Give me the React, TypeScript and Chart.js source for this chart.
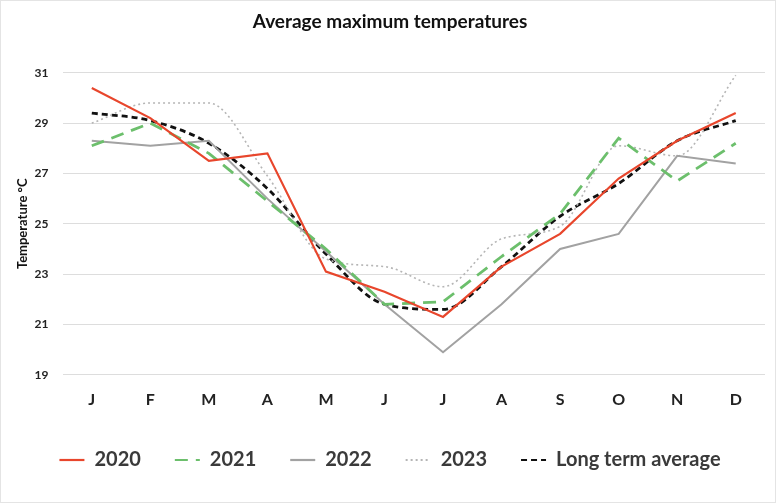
import React, { useEffect, useRef } from "react";
import { Chart, registerables } from "chart.js";

Chart.register(...registerables);

const months = ["J", "F", "M", "A", "M", "J", "J", "A", "S", "O", "N", "D"];
const y2020 = [30.4, 29.2, 27.5, 27.8, 23.1, 22.3, 21.3, 23.3, 24.6, 26.8, 28.3, 29.4];
const y2021 = [28.1, 29.0, 27.8, 25.9, 24.0, 21.8, 21.9, 23.7, 25.4, 28.4, 26.7, 28.2];
const y2022 = [28.3, 28.1, 28.3, 26.0, 23.9, 21.8, 19.9, 21.8, 24.0, 24.6, 27.7, 27.4];
const y2023 = [29.0, 29.8, 29.8, 26.9, 23.6, 23.3, 22.5, 24.4, 24.9, 28.1, 27.7, 30.9];
const longTerm = [29.4, 29.1, 28.2, 26.4, 23.8, 21.8, 21.6, 23.3, 25.3, 26.6, 28.3, 29.1];

const FONT = "Lato, 'Open Sans', sans-serif";
const LEGEND_SHIFT = 8;

const legendShiftPlugin = {
  id: "legendShift",
  afterInit(chart: any) {
    const lg = chart.legend;
    if (!lg || lg.__shifted) return;
    const orig = lg.draw.bind(lg);
    lg.draw = function () {
      const t = this.top;
      this.top = t - LEGEND_SHIFT;
      orig();
      this.top = t;
    };
    lg.__shifted = true;
  },
};

export default function App() {
  const ref = useRef<HTMLCanvasElement | null>(null);
  useEffect(() => {
    document.body.style.margin = "0";
    const ctx = ref.current!;
    const chart = new Chart(ctx, {
      type: "line",
      data: {
        labels: months,
        datasets: [
          { label: "2020", data: y2020, borderColor: "#e8462c", backgroundColor: "#e8462c", borderWidth: 2.2, pointRadius: 0, tension: 0 },
          { label: "2021", data: y2021, borderColor: "#6cbf6c", backgroundColor: "#6cbf6c", borderWidth: 2.8, borderDash: [13, 8], pointRadius: 0, tension: 0 },
          { label: "2022", data: y2022, borderColor: "#a2a2a2", backgroundColor: "#a2a2a2", borderWidth: 2, pointRadius: 0, tension: 0 },
          { label: "2023", data: y2023, borderColor: "#b5b5b5", backgroundColor: "#b5b5b5", borderWidth: 1.6, borderDash: [2, 3], pointRadius: 0, cubicInterpolationMode: "monotone" },
          { label: "Long term average", data: longTerm, borderColor: "#111111", backgroundColor: "#111111", borderWidth: 2.8, borderDash: [6, 4], pointRadius: 0, cubicInterpolationMode: "monotone" },
        ],
      },
      plugins: [legendShiftPlugin],
      options: {
        animation: false,
        responsive: false,
        maintainAspectRatio: false,
        layout: { padding: { left: 14, right: 10, top: 0, bottom: 14 } },
        plugins: {
          title: {
            display: true,
            text: "Average maximum temperatures",
            color: "#111",
            font: { family: FONT, size: 19, weight: "bold" },
            padding: { top: 9, bottom: 40 },
          },
          legend: {
            position: "bottom",
            labels: {
              usePointStyle: true,
              pointStyle: "line",
              pointStyleWidth: 25,
              boxHeight: 10,
              padding: 34,
              color: "#3a3a3a",
              font: { family: FONT, size: 20, weight: "bold" },
              generateLabels: (c: any) =>
                Chart.defaults.plugins.legend.labels.generateLabels(c).map((l: any) => ({
                  ...l,
                  pointStyle: "line",
                  lineWidth: 2.2,
                  lineDash: (c.data.datasets[l.datasetIndex] as any).borderDash || [],
                })),
            },
          },
          tooltip: { enabled: false },
        },
        scales: {
          x: {
            offset: true,
            grid: { display: false, drawTicks: false },
            border: { display: false },
            ticks: { color: "#222", font: { family: FONT, size: 16, weight: "bold" }, padding: 15 },
          },
          y: {
            min: 19,
            max: 31,
            ticks: { stepSize: 2, color: "#222", font: { family: FONT, size: 12, weight: "bold" }, padding: 14 },
            grid: { color: "#dddddd", drawTicks: false },
            border: { display: false },
            title: { display: true, text: "Temperature °C", color: "#111", font: { family: FONT, size: 13, weight: "bold" }, padding: { top: 0, bottom: -10 } },
          },
        },
      },
    });
    return () => chart.destroy();
  }, []);
  return (
    <div style={{ width: 776, height: 503, position: "relative", background: "#fff", boxSizing: "border-box", border: "1px solid #e4e4e4" }}>
      <canvas ref={ref} width={774} height={501} style={{ display: "block" }} />
    </div>
  );
}
